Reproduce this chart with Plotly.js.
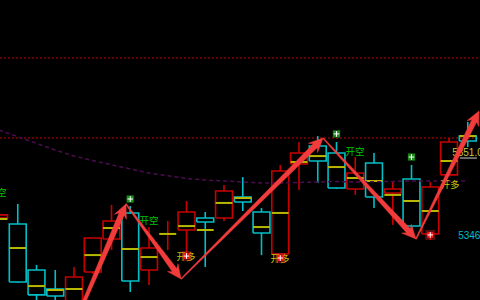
<!DOCTYPE html>
<html><head><meta charset="utf-8">
<script src="https://cdn.plot.ly/plotly-3.0.1.min.js"></script>
<style>html,body{margin:0;padding:0;background:#000;}#chart{width:480px;height:300px;}</style>
</head><body><div id="chart"></div>
<script>
// ---- candle data (bar index 0..25) ----
const openP  = [5347.00,5346.64,5343.83,5342.67,5341.50,5343.71,5345.72,5347.31,5343.83,5346.03,5346.27,5347.00,5347.00,5348.28,5347.37,5344.81,5350.30,5351.39,5350.97,5348.77,5350.36,5348.53,5349.38,5346.03,5349.63,5352.00];
const highP  = [5347.37,5347.86,5344.14,5343.83,5344.01,5345.78,5347.80,5347.73,5346.45,5346.82,5348.04,5347.37,5349.02,5349.50,5347.61,5350.24,5351.64,5352.00,5351.64,5350.72,5350.97,5349.20,5350.24,5349.20,5351.88,5352.86];
const lowP   = [5346.82,5343.04,5341.40,5341.40,5341.30,5343.59,5345.05,5342.49,5342.92,5345.05,5344.87,5344.01,5346.82,5347.43,5344.74,5344.81,5348.71,5349.14,5348.77,5348.41,5347.61,5346.58,5346.27,5345.66,5349.63,5351.33];
const closeP = [5347.19,5343.10,5342.31,5342.24,5343.40,5345.78,5346.82,5343.16,5345.17,5346.04,5347.37,5346.76,5348.65,5347.98,5346.09,5349.87,5350.97,5350.48,5348.83,5349.75,5348.28,5348.77,5346.51,5348.89,5351.64,5351.70];
const midP   = [5346.94,5345.17,5342.85,5342.61,5342.67,5344.74,5346.39,5345.11,5344.62,5346.03,5346.51,5346.27,5347.92,5348.22,5346.45,5347.31,5350.42,5350.78,5350.11,5349.44,5349.26,5348.41,5348.04,5347.43,5350.48,5352.00];
const maP    = [5352.37,5351.94,5351.55,5351.15,5350.78,5350.51,5350.24,5349.99,5349.75,5349.56,5349.41,5349.32,5349.26,5349.20,5349.14,5349.14,5349.17,5349.20,5349.23,5349.20,5349.20,5349.23,5349.26,5349.26,5349.26,5349.26];
const levels = [5356.76, 5351.88];

// zigzag pivots (bar index, price)
const zzX = [2.29, 6.77, 9.71, 17.28, 22.24, 25.60];
const zzY = [5335.90, 5347.86, 5343.28, 5351.88, 5345.72, 5353.53];

// signal dots
const buyDotX = [10, 15, 23];  const buyDotY = [5344.68, 5344.56, 5345.97];
const sellDotX = [7, 18, 22];  const sellDotY = [5348.16, 5352.13, 5350.72];

// labels
const shortLblX = [-0.11, 8.0, 18.99];  const shortLblY = [5348.47, 5346.76, 5350.97];
const longLblX = [9.97, 14.99, 24.05];  const longLblY = [5344.56, 5344.47, 5348.95];
const shortText = '开空', longText = '开多';
const priceLblX = [24.17, 24.49]; const priceLblY = [5350.91, 5345.90]; const priceLblText = ['5351.00', '5346'];
const markX = [24.59, 25.49]; const markY = 5350.66;

const XR = [0.0533, 25.653], YR = [5342.0, 5360.3];
const W = 480, H = 300;
const RED = '#c80000', CYAN = '#00c0c8', YEL = '#b8b800', ARROW = '#f23c3c';
const HALF = 0.45;

const idx = openP.map((_, i) => i);
const traces = [];

// candles drawn as hollow bodies + wicks
function candleTrace(up){
  const x = [], y = [];
  idx.forEach(i => {
    const o = openP[i], c = closeP[i];
    if ((c > o) !== up) return;
    const top = Math.max(o, c), bot = Math.min(o, c);
    x.push(i-HALF, i+HALF, i+HALF, i-HALF, i-HALF, null); y.push(bot, bot, top, top, bot, null);
    if (highP[i] > top) { x.push(i, i, null); y.push(top, highP[i], null); }
    if (lowP[i] < bot) { x.push(i, i, null); y.push(bot, lowP[i], null); }
  });
  return {type:'scatter', mode:'lines', x, y, line:{color: up ? RED : CYAN, width:1.6}, hoverinfo:'skip', showlegend:false};
}
traces.push(candleTrace(true), candleTrace(false));

// yellow mid lines
const mx = [], my = [];
idx.forEach(i => { mx.push(i-HALF, i+HALF, null); my.push(midP[i], midP[i], null); });
traces.push({type:'scatter', mode:'lines', x: mx, y: my, line:{color:YEL, width:2}, hoverinfo:'skip', showlegend:false});

// moving average
traces.push({type:'scatter', mode:'lines', x: maP.map((_, i) => i), y: maP, line:{color:'#4e0c50', width:1.5, dash:'4px,3px'}, hoverinfo:'skip', showlegend:false});

// labels
const cjk = '"Noto Sans CJK SC", "Noto Sans", sans-serif';
traces.push({type:'scatter', mode:'text', x: shortLblX, y: shortLblY, text: shortLblX.map(()=>shortText), textposition:'middle center', textfont:{family:cjk, size:9.5, color:'#00c400'}, cliponaxis:true, hoverinfo:'skip', showlegend:false});
traces.push({type:'scatter', mode:'text', x: longLblX, y: longLblY, text: longLblX.map(()=>longText), textposition:'middle center', textfont:{family:cjk, size:9.5, color:'#c8c800'}, cliponaxis:true, hoverinfo:'skip', showlegend:false});
traces.push({type:'scatter', mode:'text', x: [priceLblX[0]], y: [priceLblY[0]], text: [priceLblText[0]], textposition:'middle right', textfont:{family:'"Liberation Sans", sans-serif', size:10, color:'#c8c83c'}, cliponaxis:true, hoverinfo:'skip', showlegend:false});
traces.push({type:'scatter', mode:'text', x: [priceLblX[1]], y: [priceLblY[1]], text: [priceLblText[1]], textposition:'middle right', textfont:{family:'"Liberation Sans", sans-serif', size:10, color:'#00bcc8'}, cliponaxis:true, hoverinfo:'skip', showlegend:false});
traces.push({type:'scatter', mode:'lines', x: markX, y: [markY, markY], line:{color:'#d0d0d0', width:1}, hoverinfo:'skip', showlegend:false});

// arrows (tapered polygons computed in pixel space via axis ranges)
function toPx(x, y){ return [(x-XR[0])/(XR[1]-XR[0])*W, (YR[1]-y)/(YR[1]-YR[0])*H]; }
function toData(px, py){ return [XR[0]+px/W*(XR[1]-XR[0]), YR[1]-py/H*(YR[1]-YR[0])]; }
function arrow(x0, y0, x1, y1){
  const a = toPx(x0,y0), b = toPx(x1,y1);
  const dx = b[0]-a[0], dy = b[1]-a[1], L = Math.hypot(dx,dy);
  const ux = dx/L, uy = dy/L, nx = -uy, ny = ux;
  const hl = 14, hw = 6.5, w0 = 1, w1 = 5.5, notch = 3;
  const sb = L - hl;
  const at = (d, o) => toData(a[0]+ux*d+nx*o, a[1]+uy*d+ny*o);
  const pts = [at(0,w0/2), at(sb+notch,w1/2), at(sb,hw), at(L,0), at(sb,-hw), at(sb+notch,-w1/2), at(0,-w0/2), at(0,w0/2)];
  return {type:'scatter', mode:'lines', x: pts.map(p=>p[0]), y: pts.map(p=>p[1]), fill:'toself', fillcolor:ARROW, line:{color:ARROW, width:0.5}, hoverinfo:'skip', showlegend:false};
}
for (let k = 0; k < zzX.length-1; k++) traces.push(arrow(zzX[k], zzY[k], zzX[k+1], zzY[k+1]));

// dots
traces.push({type:'scatter', mode:'markers', x: buyDotX, y: buyDotY, marker:{symbol:'square', size:10, color:'rgba(255,40,40,0.35)'}, hoverinfo:'skip', showlegend:false});
traces.push({type:'scatter', mode:'markers', x: buyDotX, y: buyDotY, marker:{symbol:'square', size:6, color:'#ff1010'}, hoverinfo:'skip', showlegend:false});
traces.push({type:'scatter', mode:'markers', x: sellDotX, y: sellDotY, marker:{symbol:'square', size:7, color:'#1f8f1f', line:{color:'#0d5a0d', width:0.5}}, hoverinfo:'skip', showlegend:false});
traces.push({type:'scatter', mode:'markers', x: buyDotX.concat(sellDotX), y: buyDotY.concat(sellDotY), marker:{symbol:'cross-thin', size:4, line:{color:'#ffffff', width:1}}, hoverinfo:'skip', showlegend:false});

const layout = {
  width: W, height: H, margin:{l:0, r:0, t:0, b:0},
  paper_bgcolor:'#000', plot_bgcolor:'#000', showlegend:false,
  xaxis:{range: XR, visible:false, showgrid:false, zeroline:false, fixedrange:true},
  yaxis:{range: YR, visible:false, showgrid:false, zeroline:false, fixedrange:true},
  shapes: levels.map(v => ({type:'line', xref:'paper', x0:0, x1:1, yref:'y', y0:v, y1:v, layer:'below', line:{color:'#8c0000', width:1.4, dash:'2px,2px'}}))
};
Plotly.newPlot('chart', traces, layout, {staticPlot:true, displayModeBar:false});
</script></body></html>
